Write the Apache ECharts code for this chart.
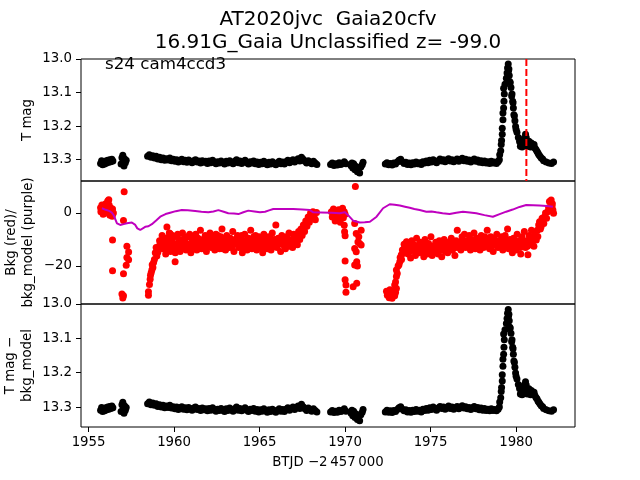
<!DOCTYPE html>
<html><head><meta charset="utf-8">
<script src="https://cdn.jsdelivr.net/npm/echarts@6/dist/echarts.min.js"></script>
<style>html,body{margin:0;padding:0;background:#fff}#c{width:640px;height:480px}</style>
</head><body><div id="c"></div><script>
// ---- tick labels / text ----
const titleLines = ['AT2020jvc  Gaia20cfv', '16.91G_Gaia Unclassified z= -99.0'];
const sectorText = 's24 cam4ccd3';
const xTicks = [1955, 1960, 1965, 1970, 1975, 1980];
const magTicks = [13.0, 13.1, 13.2, 13.3];
const bkgTicks = [-20, 0];
const peakTime = 1980.6;

// ---- light-curve times (shared by top and bottom panels) ----
const tX = [
1955.70,1955.76,1955.82,1955.88,1955.94,1956.00,1956.06,1956.12,1956.18,1956.24,1956.30,1956.36,1956.42,
1956.90,1956.95,1957.00,1957.03,1957.07,1957.10,1957.15,1957.20,
1958.45,1958.55,1958.65,1958.75,1958.85,1958.95,1959.05,1959.15,1959.25,1959.35,1959.45,1959.55,1959.65,1959.75,1959.85,1959.95,
1960.05,1960.15,1960.25,1960.35,1960.45,1960.55,1960.65,1960.75,1960.85,1960.95,
1961.05,1961.15,1961.25,1961.35,1961.45,1961.55,1961.65,1961.75,1961.85,1961.95,
1962.05,1962.15,1962.25,1962.35,1962.45,1962.55,1962.65,1962.75,1962.85,1962.95,
1963.05,1963.15,1963.25,1963.35,1963.45,1963.55,1963.65,1963.75,1963.85,1963.95,
1964.05,1964.15,1964.25,1964.35,1964.45,1964.55,1964.65,1964.75,1964.85,1964.95,
1965.05,1965.15,1965.25,1965.35,1965.45,1965.55,1965.65,1965.75,1965.85,1965.95,
1966.05,1966.15,1966.25,1966.35,1966.45,1966.55,1966.65,1966.75,1966.85,1966.95,
1967.05,1967.15,1967.25,1967.35,1967.45,1967.55,1967.65,1967.75,1967.85,1967.95,
1968.05,1968.15,1968.25,1968.35,
1969.15,1969.25,1969.35,1969.45,1969.55,1969.65,1969.75,1969.85,1969.95,1970.05,
1970.35,1970.40,1970.45,1970.50,1970.58,1970.65,1970.72,1970.80,1970.85,1970.92,1971.00,1971.05,
1972.35,1972.45,1972.55,1972.65,1972.75,1972.85,1972.95,
1973.05,1973.15,1973.25,1973.35,1973.45,1973.55,1973.65,1973.75,1973.85,1973.95,
1974.05,1974.15,1974.25,1974.35,1974.45,1974.55,1974.65,1974.75,1974.85,1974.95,
1975.05,1975.15,1975.25,1975.35,1975.45,1975.55,1975.65,1975.75,1975.85,1975.95,
1976.05,1976.15,1976.25,1976.35,1976.45,1976.55,1976.65,1976.75,1976.85,1976.95,
1977.05,1977.15,1977.25,1977.35,1977.45,1977.55,1977.65,1977.75,1977.85,1977.95,
1978.05,1978.15,1978.25,1978.35,1978.45,1978.55,1978.65,1978.75,1978.85,1978.95,
1979.02,
1979.04,1979.10,1979.13,1979.15,1979.19,1979.19,1979.23,1979.23,1979.27,1979.29,
1979.31,1979.27,1979.35,1979.43,1979.47,1979.50,1979.54,1979.56,1979.60,1979.62,
1979.70,1979.76,1979.80,1979.84,1979.87,1979.93,1979.97,1980.05,1980.13,1980.20,
1980.30,1980.40,1980.48,1980.55,1980.59,1980.69,1980.79,1980.89,1980.98,1981.10,
1981.22,1981.33,1981.47,1981.61,1981.76,1981.92,1982.07,1982.19,
1979.58,1979.66,1979.74,1979.82,1979.90,1980.00,1980.25,1980.35,1980.45,1980.52,1980.65,1980.75,1980.85,1981.05,1981.16,1981.28,1981.40,1981.55
];

// ---- T mag (top panel) ----
const tmagY = [
13.311,13.303,13.315,13.306,13.313,13.304,13.310,13.302,13.308,13.300,13.306,13.299,13.304,
13.313,13.294,13.287,13.305,13.319,13.297,13.309,13.302,
13.290,13.285,13.293,13.288,13.295,13.290,13.298,13.293,13.300,13.295,13.302,13.297,13.301,13.295,13.303,13.299,
13.305,13.300,13.307,13.302,13.299,13.306,13.302,13.308,13.301,13.305,
13.309,13.303,13.300,13.307,13.304,13.310,13.303,13.308,13.305,13.311,
13.304,13.309,13.302,13.307,13.312,13.306,13.310,13.304,13.309,13.313,
13.305,13.310,13.303,13.308,13.312,13.305,13.300,13.309,13.304,13.311,
13.306,13.302,13.309,13.313,13.306,13.310,13.304,13.312,13.307,13.314,
13.308,13.312,13.305,13.311,13.315,13.308,13.313,13.306,13.311,13.315,
13.309,13.305,13.312,13.307,13.313,13.306,13.302,13.309,13.304,13.300,
13.307,13.302,13.297,13.304,13.293,13.299,13.305,13.310,13.303,13.308,
13.312,13.305,13.310,13.314,
13.314,13.310,13.317,13.312,13.316,13.309,13.314,13.311,13.306,13.312,
13.318,13.310,13.325,13.312,13.330,13.320,13.336,13.327,13.340,13.322,13.315,13.308,
13.313,13.309,13.315,13.311,13.316,13.310,13.313,
13.307,13.302,13.299,13.306,13.311,13.308,13.314,13.310,13.315,13.309,
13.313,13.307,13.312,13.309,13.314,13.306,13.310,13.304,13.309,13.302,
13.307,13.300,13.305,13.309,13.303,13.298,13.304,13.300,13.306,13.301,
13.297,13.304,13.300,13.306,13.302,13.298,13.305,13.300,13.296,13.303,
13.299,13.305,13.301,13.307,13.302,13.298,13.305,13.301,13.308,13.303,
13.309,13.304,13.310,13.306,13.311,13.305,13.310,13.307,13.311,13.306,
13.300,
13.285,13.273,13.255,13.243,13.224,13.206,13.181,13.161,13.146,13.126,
13.104,13.087,13.075,13.057,13.042,13.027,13.015,13.035,13.049,13.067,
13.085,13.104,13.126,13.146,13.166,13.184,13.201,13.218,13.234,13.246,
13.254,13.248,13.236,13.224,13.234,13.248,13.255,13.250,13.258,13.265,
13.275,13.285,13.295,13.303,13.307,13.310,13.311,13.307,
13.030,13.070,13.110,13.130,13.170,13.210,13.260,13.262,13.245,13.250,13.260,13.245,13.262,13.255,13.270,13.280,13.290,13.298
];

// ---- T mag - bkg_model (bottom panel) ----
const tmagCorrY = [
13.309,13.301,13.313,13.304,13.311,13.302,13.308,13.300,13.306,13.298,13.304,13.297,13.302,
13.313,13.293,13.286,13.305,13.318,13.296,13.309,13.301,
13.290,13.285,13.293,13.288,13.295,13.290,13.298,13.293,13.300,13.295,13.302,13.297,13.301,13.295,13.303,13.299,
13.305,13.300,13.307,13.302,13.299,13.306,13.302,13.308,13.301,13.305,
13.309,13.303,13.300,13.307,13.304,13.310,13.303,13.308,13.305,13.311,
13.304,13.309,13.302,13.307,13.312,13.306,13.310,13.304,13.309,13.313,
13.305,13.310,13.303,13.308,13.312,13.305,13.300,13.309,13.304,13.311,
13.306,13.302,13.309,13.313,13.306,13.310,13.304,13.312,13.307,13.314,
13.308,13.312,13.305,13.311,13.315,13.308,13.313,13.306,13.311,13.315,
13.309,13.305,13.312,13.307,13.313,13.306,13.302,13.309,13.304,13.300,
13.307,13.302,13.297,13.304,13.292,13.299,13.305,13.310,13.303,13.308,
13.312,13.305,13.310,13.314,
13.314,13.310,13.316,13.312,13.315,13.309,13.313,13.311,13.305,13.312,
13.318,13.309,13.325,13.312,13.330,13.320,13.336,13.327,13.340,13.322,13.315,13.307,
13.314,13.309,13.315,13.311,13.316,13.310,13.313,
13.307,13.302,13.299,13.306,13.311,13.308,13.314,13.310,13.315,13.309,
13.313,13.307,13.312,13.309,13.314,13.306,13.310,13.304,13.309,13.302,
13.307,13.300,13.305,13.309,13.303,13.298,13.304,13.300,13.306,13.301,
13.297,13.304,13.300,13.306,13.302,13.298,13.305,13.300,13.296,13.303,
13.299,13.305,13.301,13.307,13.302,13.298,13.305,13.301,13.308,13.303,
13.309,13.304,13.310,13.306,13.311,13.305,13.310,13.307,13.311,13.306,
13.300,
13.285,13.273,13.255,13.243,13.224,13.206,13.181,13.161,13.146,13.126,
13.104,13.087,13.075,13.057,13.042,13.027,13.016,13.035,13.049,13.067,
13.085,13.104,13.126,13.146,13.166,13.184,13.201,13.218,13.234,13.246,
13.256,13.250,13.236,13.226,13.236,13.250,13.257,13.252,13.260,13.266,
13.276,13.286,13.296,13.304,13.308,13.311,13.312,13.308,
13.030,13.070,13.110,13.130,13.170,13.210,13.262,13.264,13.247,13.252,13.262,13.247,13.264,13.257,13.272,13.282,13.291,13.299
];

// ---- Bkg (red) points: [time, value] ----
const bkgPts = [
[1955.70,2.0],[1955.72,0.5],[1955.78,3.0],[1955.80,1.2],[1955.85,-0.5],[1955.90,2.5],[1955.95,1.0],[1956.00,3.5],[1956.02,0.0],[1956.08,2.2],
[1956.12,4.5],[1956.15,1.5],[1956.20,3.0],[1956.25,-0.8],[1956.28,2.0],[1956.32,0.8],[1956.38,-1.2],[1956.40,1.5],[1956.45,0.0],[1956.18,5.0],
[1957.08,8.0],[1957.04,-2.8],[1956.40,-10.2],[1956.40,-21.8],[1956.95,-30.6],[1957.00,-32.1],[1957.04,-31.2],
[1957.24,-12.5],[1957.34,-14.7],[1957.24,-16.8],[1957.34,-17.6],[1957.20,-19.7],[1957.04,-22.9],
[1958.50,-29.7],[1958.50,-31.0],[1958.56,-27.0],[1958.60,-25.0],[1958.62,-23.5],[1958.66,-22.5],[1958.70,-21.5],[1958.72,-19.5],[1958.76,-20.6],
[1958.80,-18.7],[1958.85,-17.5],[1958.90,-15.0],[1958.95,-13.0],[1958.99,-16.2],[1959.05,-14.8],[1959.09,-13.7],[1959.12,-12.5],[1959.15,-10.5],
[1959.19,-11.8],[1959.25,-13.2],[1959.30,-11.0],[1959.38,-9.8],[1959.45,-12.5],[1959.58,-5.3],[1959.77,-7.8],[1960.06,-18.4],
[1959.30,-8.5],[1959.37,-13.5],[1959.44,-11.0],[1959.51,-15.5],[1959.58,-9.5],[1959.65,-12.5],[1959.72,-7.5],[1959.79,-14.5],[1959.86,-10.5],[1959.93,-13.0],
[1960.00,-9.0],[1960.07,-15.0],[1960.14,-11.5],[1960.21,-8.0],[1960.28,-12.5],[1960.35,-14.5],[1960.42,-10.5],[1960.49,-7.5],[1960.56,-13.0],[1960.63,-11.0],
[1960.70,-14.0],[1960.77,-9.0],[1960.84,-12.0],[1960.91,-8.0],[1960.98,-15.0],[1961.05,-10.0],[1961.12,-11.0],[1961.19,-13.0],[1961.26,-8.0],[1961.33,-14.0],
[1961.40,-9.5],[1961.47,-12.0],[1961.54,-6.5],[1961.61,-13.5],[1961.68,-10.0],[1961.75,-11.5],[1961.82,-8.5],[1961.89,-14.5],[1961.96,-10.5],[1962.03,-12.5],
[1962.10,-7.5],[1962.17,-13.0],[1962.24,-9.5],[1962.31,-11.5],[1962.38,-14.0],[1962.45,-8.0],[1962.52,-12.0],[1962.59,-10.0],[1962.66,-13.5],[1962.73,-9.0],
[1962.80,-6.0],[1962.87,-12.5],[1962.94,-10.5],[1963.01,-14.0],[1963.08,-8.5],[1963.15,-11.5],[1963.22,-13.0],[1963.29,-9.5],[1963.36,-12.0],[1963.43,-7.0],
[1963.50,-14.5],[1963.57,-10.0],[1963.64,-11.5],[1963.71,-8.5],[1963.78,-13.0],[1963.85,-9.0],[1963.92,-12.5],[1963.99,-15.0],[1964.06,-10.5],[1964.13,-8.0],
[1964.20,-12.0],[1964.27,-14.0],[1964.34,-9.5],[1964.41,-11.0],[1964.48,-6.5],[1964.55,-13.5],[1964.62,-10.0],[1964.69,-12.5],[1964.76,-8.5],[1964.83,-14.0],
[1964.90,-11.0],[1964.97,-9.0],[1965.04,-13.0],[1965.11,-10.5],[1965.18,-15.0],[1965.25,-8.0],[1965.32,-12.0],[1965.39,-10.0],[1965.46,-13.5],[1965.53,-9.0],
[1965.60,-11.5],[1965.67,-14.0],[1965.74,-7.5],[1965.81,-12.5],[1965.88,-10.0],[1965.95,-4.5],[1966.02,-13.0],[1966.09,-9.5],[1966.16,-11.5],[1966.23,-14.5],
[1966.30,-8.5],[1966.37,-12.0],[1966.44,-10.5],[1966.51,-13.5],[1966.58,-9.0],[1966.65,-11.0],[1966.72,-7.5],[1966.79,-12.5],[1966.86,-10.0],[1966.93,-13.0],
[1967.00,-8.0],[1967.07,-11.5],[1967.14,-9.5],[1967.21,-12.0],[1967.28,-7.0],[1967.35,-10.0],[1967.42,-6.0],[1967.49,-8.5],[1967.56,-4.5],[1967.63,-7.0],
[1967.70,-3.0],[1967.77,-5.0],[1967.84,-1.5],[1967.91,-3.5],[1967.98,0.0],[1968.05,-2.0],[1968.12,0.5],[1968.19,-1.0],[1968.26,-2.5],[1968.33,0.2],
[1959.335,-11.5],[1959.475,-9.5],[1959.615,-14.0],[1959.755,-11.0],[1959.895,-8.5],[1960.035,-12.0],[1960.175,-13.5],[1960.315,-10.0],[1960.455,-12.0],[1960.595,-9.5],
[1960.735,-11.5],[1960.875,-13.5],[1961.015,-12.0],[1961.155,-9.0],[1961.295,-11.5],[1961.435,-13.0],[1961.575,-10.5],[1961.715,-12.5],[1961.855,-11.0],[1961.995,-9.0],
[1962.135,-11.0],[1962.275,-12.5],[1962.415,-10.5],[1962.555,-8.5],[1962.695,-11.5],[1962.835,-13.5],[1962.975,-11.5],[1963.115,-10.0],[1963.255,-11.0],[1963.395,-13.0],
[1963.535,-11.5],[1963.675,-10.0],[1963.815,-11.0],[1963.955,-8.5],[1964.095,-13.0],[1964.235,-10.5],[1964.375,-12.5],[1964.515,-11.5],[1964.655,-9.0],[1964.795,-11.5],
[1964.935,-12.5],[1965.075,-11.5],[1965.215,-10.0],[1965.355,-13.0],[1965.495,-11.0],[1965.635,-9.5],[1965.775,-11.0],[1965.915,-12.5],[1966.055,-11.0],[1966.195,-10.0],
[1966.335,-11.0],[1966.475,-9.5],[1966.615,-12.5],[1966.755,-10.5],[1966.895,-11.5],[1967.035,-10.0],[1967.175,-8.5],[1967.315,-9.0],[1967.455,-7.5],[1967.595,-6.0],[1967.735,-4.0],
[1969.20,0.5],[1969.25,-1.5],[1969.32,1.5],[1969.38,-0.5],[1969.45,0.8],[1969.50,-2.5],[1969.55,0.0],[1969.62,1.2],[1969.68,-1.0],[1969.72,-3.5],
[1969.78,0.3],[1969.85,1.8],[1969.90,-1.8],[1969.95,0.5],[1970.00,-0.5],[1969.42,-3.0],
[1969.95,-4.6],[1969.97,-7.1],[1970.00,-8.6],[1970.00,-18.1],[1970.00,-25.2],[1970.05,-27.2],[1970.05,-29.9],
[1970.60,10.0],
[1970.56,-4.0],[1970.65,-7.7],[1970.75,-10.9],[1970.85,-11.5],[1970.56,-13.4],[1970.65,-14.6],[1970.68,-18.4],[1970.56,-19.6],[1970.47,-27.8],[1970.68,-26.5],
[1970.94,-6.5],[1970.94,-12.1],[1970.80,-9.0],[1970.72,-20.0],
[1972.42,-29.5],[1972.47,-31.0],[1972.52,-30.2],[1972.58,-32.0],[1972.62,-29.0],[1972.66,-31.5],[1972.70,-30.5],[1972.75,-32.2],[1972.80,-31.0],[1972.85,-29.8],
[1972.90,-31.2],[1972.95,-30.0],[1973.00,-28.5],[1972.90,-27.2],[1972.95,-26.0],[1973.00,-24.0],[1973.05,-22.8],[1973.00,-21.5],[1973.10,-20.0],[1973.15,-19.5],
[1973.20,-18.4],[1973.22,-16.8],[1973.29,-15.8],[1973.30,-17.5],[1973.35,-14.0],[1973.42,-15.2],[1973.45,-11.8],[1973.49,-12.7],[1973.55,-14.5],[1973.59,-10.8],
[1973.62,-11.0],[1973.69,-15.5],[1973.76,-12.5],[1973.83,-17.0],[1973.90,-10.5],[1973.97,-14.0],[1974.04,-12.0],[1974.11,-16.0],[1974.18,-9.5],[1974.25,-13.5],
[1974.32,-15.0],[1974.39,-11.0],[1974.46,-14.5],[1974.53,-12.0],[1974.60,-16.5],[1974.67,-10.0],[1974.74,-13.0],[1974.81,-15.5],[1974.88,-11.5],[1974.95,-14.0],
[1975.02,-9.0],[1975.09,-16.0],[1975.16,-12.5],[1975.23,-14.5],[1975.30,-11.0],[1975.37,-13.5],[1975.44,-15.5],[1975.51,-10.5],[1975.58,-12.0],[1975.65,-16.5],
[1975.72,-13.0],[1975.79,-10.0],[1975.86,-14.5],[1975.93,-12.0],[1976.00,-15.0],[1976.07,-11.0],[1976.14,-13.5],[1976.21,-9.5],[1976.28,-14.0],[1976.35,-12.0],
[1976.42,-16.0],[1976.49,-10.5],[1976.56,-6.5],[1976.63,-13.0],[1976.70,-11.0],[1976.77,-14.0],[1976.84,-9.0],[1976.91,-12.0],[1976.98,-8.0],[1977.05,-13.0],
[1977.12,-10.5],[1977.19,-12.5],[1977.26,-8.5],[1977.33,-14.0],[1977.40,-10.0],[1977.47,-11.5],[1977.54,-7.5],[1977.61,-13.5],[1977.68,-9.5],[1977.75,-12.0],
[1977.82,-10.5],[1977.89,-14.0],[1977.96,-8.5],[1978.03,-11.0],[1978.10,-13.0],[1978.17,-9.0],[1978.24,-12.0],[1978.31,-6.5],[1978.38,-10.5],[1978.45,-13.5],
[1978.52,-9.0],[1978.59,-11.5],[1978.66,-14.5],[1978.73,-10.0],[1978.80,-12.0],[1978.87,-8.0],[1978.94,-13.0],[1979.01,-10.5],[1979.08,-12.5],[1979.15,-9.0],
[1979.22,-14.0],[1979.29,-11.0],[1979.36,-8.5],[1979.43,-12.5],[1979.50,-6.0],[1979.57,-13.5],[1979.64,-10.0],[1979.71,-12.0],[1979.78,-15.0],[1979.85,-9.5],
[1979.92,-11.5],[1979.99,-14.0],[1980.06,-8.0],[1980.13,-12.5],[1980.20,-10.5],[1980.27,-15.5],[1980.34,-9.0],[1980.41,-12.0],[1980.48,-7.0],[1980.55,-13.0],
[1980.62,-10.5],[1980.69,-15.8],[1980.76,-8.5],[1980.83,-12.0],[1980.90,-6.5],[1980.97,-10.0],[1981.04,-12.5],[1981.11,-8.0],[1981.18,-10.2],[1981.24,-6.5],
[1981.27,-8.9],[1981.32,-4.5],[1981.37,-3.3],[1981.42,-6.0],[1981.46,-5.2],[1981.52,-2.0],[1981.56,-2.7],[1981.62,-4.0],[1981.66,-1.4],[1981.72,0.0],
[1981.78,-2.0],[1981.85,0.5],[1981.90,2.0],[1981.95,4.3],[1982.00,1.5],[1982.05,4.9],[1982.10,2.5],[1982.15,1.1],[1982.19,-0.1],[1982.12,3.5],
[1973.655,-13.0],[1973.795,-14.5],[1973.935,-12.5],[1974.075,-13.5],[1974.215,-15.0],[1974.355,-12.5],[1974.495,-13.5],[1974.635,-12.0],[1974.775,-14.0],[1974.915,-12.5],
[1975.055,-13.0],[1975.195,-14.5],[1975.335,-12.5],[1975.475,-13.0],[1975.615,-14.0],[1975.755,-11.5],[1975.895,-13.0],[1976.035,-12.5],[1976.175,-14.0],[1976.315,-11.5],
[1976.455,-13.0],[1976.595,-11.5],[1976.735,-12.5],[1976.875,-10.5],[1977.015,-11.5],[1977.155,-12.0],[1977.295,-10.0],[1977.435,-12.5],[1977.575,-11.0],[1977.715,-10.5],
[1977.855,-12.0],[1977.995,-11.5],[1978.135,-10.5],[1978.275,-12.5],[1978.415,-11.0],[1978.555,-12.5],[1978.695,-10.5],[1978.835,-11.5],[1978.975,-12.0],[1979.115,-10.5],
[1979.255,-12.5],[1979.395,-10.0],[1979.535,-11.5],[1979.675,-13.0],[1979.815,-11.0],[1979.955,-12.5],[1980.095,-11.0],[1980.235,-13.0],[1980.375,-11.0],[1980.515,-11.5],
[1980.655,-12.5],[1980.795,-10.0],[1980.935,-11.0],[1981.075,-9.5]
];

// ---- bkg_model (purple line): [time, value] ----
const bkgModel = [
[1955.78,1.8],[1956.00,1.2],[1956.20,0.8],[1956.35,0.2],[1956.46,-0.75],[1956.66,-3.9],[1956.85,-4.5],[1957.05,-4.2],[1957.24,-3.9],[1957.53,-3.6],
[1957.73,-4.5],[1957.85,-5.8],[1958.02,-6.4],[1958.31,-5.2],[1958.50,-5.0],[1958.70,-4.2],[1958.95,-2.8],[1959.19,-1.4],[1959.50,-0.4],[1959.77,0.1],
[1960.10,0.7],[1960.45,1.1],[1960.80,1.0],[1961.23,0.75],[1961.60,0.5],[1962.00,0.25],[1962.30,0.6],[1962.59,1.1],[1962.90,0.5],[1963.17,-0.1],
[1963.50,-0.2],[1963.76,-0.4],[1964.05,0.3],[1964.34,0.9],[1964.70,0.6],[1965.02,0.25],[1965.32,0.5],[1965.55,1.0],[1965.80,1.5],[1966.40,1.5],
[1966.97,1.5],[1967.50,1.3],[1967.94,1.1],[1968.14,0.25],[1968.60,0.2],[1969.20,0.1],[1969.69,-0.1],[1969.99,0.25],[1970.20,-1.0],[1970.47,-2.9],
[1970.86,-3.6],[1971.15,-3.5],[1971.45,-3.3],[1971.84,-1.4],[1972.22,1.8],[1972.61,3.3],[1972.90,3.1],[1973.20,2.8],[1973.50,2.4],[1973.78,2.0],
[1974.05,1.5],[1974.36,1.1],[1974.75,0.5],[1975.05,0.6],[1975.34,0.25],[1975.70,-0.1],[1976.11,-0.4],[1976.50,0.1],[1976.89,0.5],[1977.30,0.2],
[1977.67,-0.1],[1978.15,-0.8],[1978.64,-1.4],[1979.00,-0.5],[1979.42,0.5],[1979.80,1.3],[1980.20,2.3],[1980.59,3.0],[1981.00,2.9],[1981.37,2.8],
[1981.80,2.6],[1982.15,2.4]
];

// ---- build chart ----
const FONT = '"DejaVu Sans", sans-serif';
const XMIN = 1954.556, XMAX = 1983.444;
const pair = (xs, ys) => xs.slice(0, Math.min(xs.length, ys.length)).map((x, i) => [x, ys[i]]);
const minusFmt = v => (v < 0 ? '\u2212' + Math.abs(v) : String(v));

function mkX(gi, show) {
  return {
    type: 'value', gridIndex: gi, min: XMIN, max: XMAX,
    axisLine: { show: false }, splitLine: { show: false },
    axisTick: { show: show, length: 5, lineStyle: { color: '#000', width: 1 }, customValues: xTicks },
    axisLabel: { show: show, customValues: xTicks, fontFamily: FONT, fontSize: 13.33, color: '#000', margin: 9,
      formatter: v => String(v) }
  };
}
function mkY(gi, min, max, inverse, ticks, fmt) {
  return {
    type: 'value', gridIndex: gi, min: min, max: max, inverse: inverse,
    axisLine: { show: false }, splitLine: { show: false },
    axisTick: { show: true, length: 5, lineStyle: { color: '#000', width: 1 }, customValues: ticks },
    axisLabel: { show: true, customValues: ticks, fontFamily: FONT, fontSize: 13.33, color: '#000', margin: 9, formatter: fmt }
  };
}
function txt(x, y, s, size, rot) {
  return { type: 'text', x: x, y: y, rotation: rot || 0, silent: true,
    style: { text: s, font: size + 'px ' + FONT, fill: '#000', align: 'center', verticalAlign: 'middle' } };
}

const chart = echarts.init(document.getElementById('c'), null, { renderer: 'canvas' });
const grid = (top, h) => ({ left: 81, top: top, width: 494, height: h, show: true,
  borderColor: '#000', borderWidth: 1, backgroundColor: 'transparent', containLabel: false });
const dot = (color) => ({ color: color, opacity: 1 });

chart.setOption({
  animation: false,
  backgroundColor: '#fff',
  grid: [grid(59, 122), grid(181, 123), grid(304, 123)],
  xAxis: [mkX(0, false), mkX(1, false), mkX(2, true)],
  yAxis: [
    mkY(0, 13.0, 13.3635, true, magTicks, v => v.toFixed(1)),
    mkY(1, -34.34, 12.08, false, bkgTicks, minusFmt),
    mkY(2, 13.0, 13.358, true, magTicks, v => v.toFixed(1))
  ],
  series: [
    { type: 'scatter', xAxisIndex: 0, yAxisIndex: 0, data: pair(tX, tmagY), symbol: 'circle', symbolSize: 7,
      itemStyle: dot('#000'), silent: true, z: 2 },
    { type: 'line', xAxisIndex: 0, yAxisIndex: 0, data: [[peakTime, 13.0], [peakTime, 13.3635]], showSymbol: false,
      lineStyle: { color: '#ff0000', width: 2, type: [7, 3] }, silent: true, z: 3 },
    { type: 'scatter', xAxisIndex: 1, yAxisIndex: 1, data: bkgPts, symbol: 'circle', symbolSize: 7,
      itemStyle: dot('#ff0000'), silent: true, z: 2 },
    { type: 'line', xAxisIndex: 1, yAxisIndex: 1, data: bkgModel, showSymbol: false,
      lineStyle: { color: '#bf00bf', width: 2 }, silent: true, z: 3 },
    { type: 'scatter', xAxisIndex: 2, yAxisIndex: 2, data: pair(tX, tmagCorrY), symbol: 'circle', symbolSize: 7,
      itemStyle: dot('#000'), silent: true, z: 2 }
  ],
  graphic: [
    txt(328, 20, titleLines[0], 20),
    txt(328, 43, titleLines[1], 20),
    { type: 'text', x: 105, y: 64.5, silent: true,
      style: { text: sectorText, font: '16.7px ' + FONT, fill: '#000', align: 'left', verticalAlign: 'middle' } },
    txt(27.5, 120, 'T mag', 13.33, Math.PI / 2),
    txt(12, 242.5, 'Bkg (red)/', 13.33, Math.PI / 2),
    txt(28.5, 242.5, 'bkg_model (purple)', 13.33, Math.PI / 2),
    txt(11, 365.5, 'T mag \u2212', 13.33, Math.PI / 2),
    txt(27.5, 365.5, 'bkg_model', 13.33, Math.PI / 2),
    txt(328, 463, 'BTJD \u22122\u2009457\u2009000', 13.33)
  ]
});
</script></body></html>
